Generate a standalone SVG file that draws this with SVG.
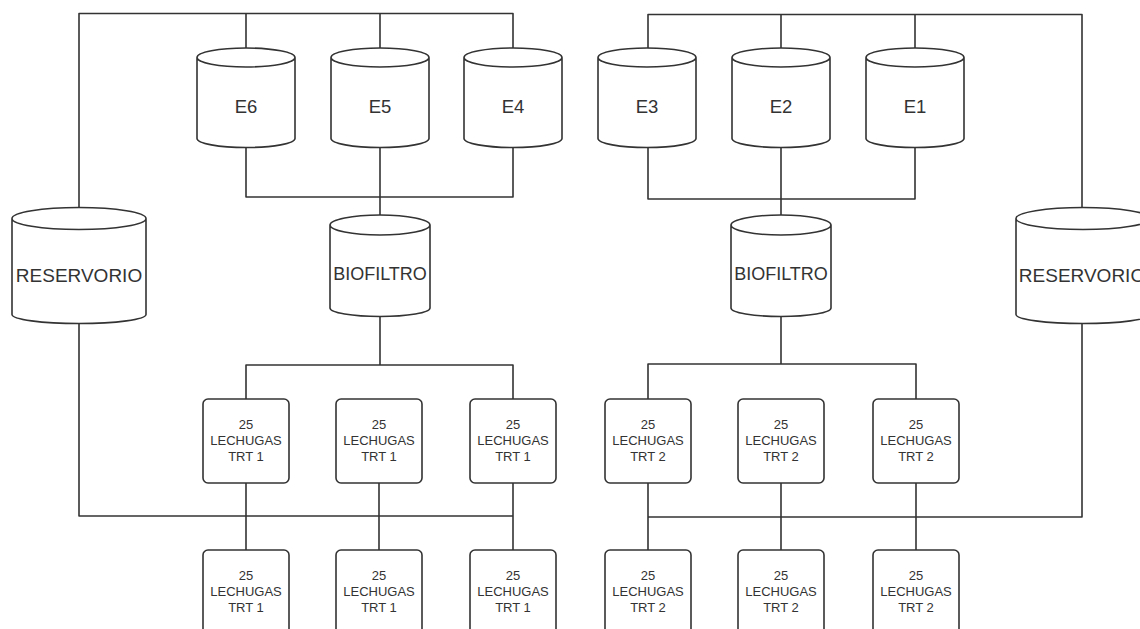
<svg xmlns="http://www.w3.org/2000/svg" width="1140" height="629" viewBox="0 0 1140 629">
<style>
.c{fill:none;stroke:#333;stroke-width:1.6;stroke-linejoin:round}
.s{fill:#fff;stroke:#333;stroke-width:1.6}
.t{font-family:"Liberation Sans",Arial,sans-serif;fill:#333;text-anchor:middle}
.e{font-size:18.5px}
.b{font-size:18px}
.r{font-size:19px}
.x{font-size:13px}
</style>
<rect width="1140" height="629" fill="#fff"/>
<g id="connectors" class="c">
<path d="M79,207 V13.5 H513 V57"/>
<path d="M246,13.5 V57"/>
<path d="M380,13.5 V57"/>
<path d="M1082,207 V14.5 H648 V57"/>
<path d="M781,14.5 V57"/>
<path d="M915,14.5 V57"/>
<path d="M246,147 V197 H513 V147"/>
<path d="M380,147 V225"/>
<path d="M648,147 V199 H915 V147"/>
<path d="M781,147 V225"/>
<path d="M380,316 V365"/>
<path d="M246,399 V365 H513 V399"/>
<path d="M781,316 V364"/>
<path d="M648,399 V364 H916 V399"/>
<path d="M79,323 V516 H513"/>
<path d="M246,483 V550"/>
<path d="M379,483 V550"/>
<path d="M513,483 V550"/>
<path d="M1082,323 V517 H648"/>
<path d="M648,483 V550"/>
<path d="M781,483 V550"/>
<path d="M916,483 V550"/>
</g>
<defs>
<path id="cylE" d="M0,0 A49,9.5 0 0 1 98,0 A49,9.5 0 0 1 0,0 M0,0 V81 A49,9 0 0 0 98,81 V0"/>
<path id="cylB" d="M0,0 A50,10 0 0 1 100,0 A50,10 0 0 1 0,0 M0,0 V83 A50,8.5 0 0 0 100,83 V0"/>
<path id="cylR" d="M0,0 A67,11 0 0 1 134,0 A67,11 0 0 1 0,0 M0,0 V96 A67,9 0 0 0 134,96 V0"/>
<rect id="box" x="0" y="0" width="86" height="84" rx="5" ry="5"/>
</defs>
<g id="E6"><use href="#cylE" x="197" y="57.5" class="s"/><text class="t e" x="246" y="112.5">E6</text></g>
<g id="E5"><use href="#cylE" x="331" y="57.5" class="s"/><text class="t e" x="380" y="112.5">E5</text></g>
<g id="E4"><use href="#cylE" x="464" y="57.5" class="s"/><text class="t e" x="513" y="112.5">E4</text></g>
<g id="E3"><use href="#cylE" x="598" y="57.5" class="s"/><text class="t e" x="647" y="112.5">E3</text></g>
<g id="E2"><use href="#cylE" x="732" y="57.5" class="s"/><text class="t e" x="781" y="112.5">E2</text></g>
<g id="E1"><use href="#cylE" x="866" y="57.5" class="s"/><text class="t e" x="915" y="112.5">E1</text></g>
<g id="biofiltro1"><use href="#cylB" x="330" y="225" class="s"/><text class="t b" x="380" y="279.5">BIOFILTRO</text></g>
<g id="biofiltro2"><use href="#cylB" x="731" y="225" class="s"/><text class="t b" x="781" y="279.5">BIOFILTRO</text></g>
<g id="reservorio1"><use href="#cylR" x="12" y="218.5" class="s"/><text class="t r" x="79" y="282">RESERVORIO</text></g>
<g id="reservorio2"><use href="#cylR" x="1016" y="218.5" class="s"/><text class="t r" x="1082" y="282">RESERVORIO</text></g>
<g id="l1a"><use href="#box" x="203" y="399" class="s"/><text class="t x" x="246"><tspan x="246" y="428.5">25</tspan><tspan x="246" y="444.5">LECHUGAS</tspan><tspan x="246" y="460.5">TRT 1</tspan></text></g>
<g id="l1b"><use href="#box" x="336" y="399" class="s"/><text class="t x" x="379"><tspan x="379" y="428.5">25</tspan><tspan x="379" y="444.5">LECHUGAS</tspan><tspan x="379" y="460.5">TRT 1</tspan></text></g>
<g id="l1c"><use href="#box" x="470" y="399" class="s"/><text class="t x" x="513"><tspan x="513" y="428.5">25</tspan><tspan x="513" y="444.5">LECHUGAS</tspan><tspan x="513" y="460.5">TRT 1</tspan></text></g>
<g id="l2a"><use href="#box" x="605" y="399" class="s"/><text class="t x" x="648"><tspan x="648" y="428.5">25</tspan><tspan x="648" y="444.5">LECHUGAS</tspan><tspan x="648" y="460.5">TRT 2</tspan></text></g>
<g id="l2b"><use href="#box" x="738" y="399" class="s"/><text class="t x" x="781"><tspan x="781" y="428.5">25</tspan><tspan x="781" y="444.5">LECHUGAS</tspan><tspan x="781" y="460.5">TRT 2</tspan></text></g>
<g id="l2c"><use href="#box" x="873" y="399" class="s"/><text class="t x" x="916"><tspan x="916" y="428.5">25</tspan><tspan x="916" y="444.5">LECHUGAS</tspan><tspan x="916" y="460.5">TRT 2</tspan></text></g>
<g id="l1d"><use href="#box" x="203" y="550" class="s"/><text class="t x" x="246"><tspan x="246" y="579.5">25</tspan><tspan x="246" y="595.5">LECHUGAS</tspan><tspan x="246" y="611.5">TRT 1</tspan></text></g>
<g id="l1e"><use href="#box" x="336" y="550" class="s"/><text class="t x" x="379"><tspan x="379" y="579.5">25</tspan><tspan x="379" y="595.5">LECHUGAS</tspan><tspan x="379" y="611.5">TRT 1</tspan></text></g>
<g id="l1f"><use href="#box" x="470" y="550" class="s"/><text class="t x" x="513"><tspan x="513" y="579.5">25</tspan><tspan x="513" y="595.5">LECHUGAS</tspan><tspan x="513" y="611.5">TRT 1</tspan></text></g>
<g id="l2d"><use href="#box" x="605" y="550" class="s"/><text class="t x" x="648"><tspan x="648" y="579.5">25</tspan><tspan x="648" y="595.5">LECHUGAS</tspan><tspan x="648" y="611.5">TRT 2</tspan></text></g>
<g id="l2e"><use href="#box" x="738" y="550" class="s"/><text class="t x" x="781"><tspan x="781" y="579.5">25</tspan><tspan x="781" y="595.5">LECHUGAS</tspan><tspan x="781" y="611.5">TRT 2</tspan></text></g>
<g id="l2f"><use href="#box" x="873" y="550" class="s"/><text class="t x" x="916"><tspan x="916" y="579.5">25</tspan><tspan x="916" y="595.5">LECHUGAS</tspan><tspan x="916" y="611.5">TRT 2</tspan></text></g>
</svg>
